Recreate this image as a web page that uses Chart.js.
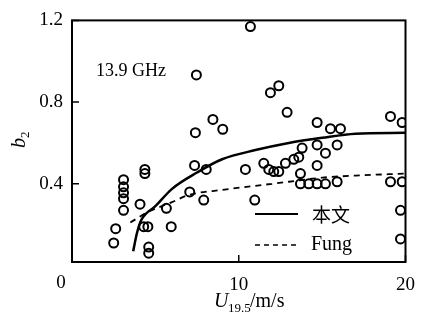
<!DOCTYPE html>
<html>
<head>
<meta charset="utf-8">
<script src="https://cdn.jsdelivr.net/npm/chart.js@4.4.1/dist/chart.umd.min.js"></script>
<style>
  html, body { margin: 0; padding: 0; background: #fff; }
  #wrap { width: 427px; height: 322px; }
</style>
</head>
<body>
<div id="wrap"><canvas id="b2Chart" width="427" height="322"></canvas></div>
<script>
// measured points, U19.5 (m/s) vs b2
const windSpeed = [
    3.09, 3.09, 3.09, 3.09, 3.09, 4.08, 2.62, 2.5, 4.37, 4.37,
    4.3, 4.55, 4.6, 4.6, 5.95, 5.66, 7.06, 7.9, 7.35, 8.05,
    10.4, 10.96, 11.5, 11.8, 12.1, 12.4, 12.8, 13.3, 13.6, 13.8,
    14.7, 15.9, 14.7, 15.2, 13.7, 14.2, 14.7, 15.2, 15.9, 13.7,
    19.1, 19.8, 19.7, 19.7, 14.7, 15.5, 16.1, 19.1, 19.8, 10.7,
    7.46, 11.9, 12.4, 12.9, 8.45, 9.04, 7.4
];
const b2Measured = [
    0.42, 0.385, 0.356, 0.327, 0.27, 0.30, 0.18, 0.11, 0.47, 0.45,
    0.19, 0.19, 0.09, 0.06, 0.19, 0.28, 0.36, 0.32, 0.49, 0.47,
    0.47, 0.32, 0.50, 0.47, 0.46, 0.46, 0.50, 0.52, 0.53, 0.575,
    0.59, 0.59, 0.49, 0.55, 0.40, 0.40, 0.40, 0.40, 0.41, 0.45,
    0.41, 0.41, 0.27, 0.13, 0.70, 0.67, 0.67, 0.73, 0.70, 1.17,
    0.933, 0.846, 0.88, 0.75, 0.715, 0.667, 0.65
];

// model curves
const modelU = [3.67, 3.9, 4.14, 5, 6, 7.5, 9, 11, 13, 15, 17, 20];
const modelB2 = [0.07, 0.16, 0.22, 0.29, 0.375, 0.455, 0.52, 0.565, 0.6, 0.625, 0.645, 0.65];
const fungU = [3.5, 4.5, 6, 7, 9, 11, 13, 15, 17, 20];
const fungB2 = [0.21, 0.26, 0.31, 0.345, 0.37, 0.39, 0.41, 0.43, 0.44, 0.45];

const xTicks = [0, 10, 20];
const yTicks = [0.4, 0.8, 1.2];
const seriesNames = ['本文', 'Fung'];
const freqLabel = '13.9 GHz';

const serif = '"Liberation Serif", "DejaVu Serif", serif';

const toPoints = (xs, ys) => xs.map((x, i) => ({ x: x, y: ys[i] }));

// frame, inward ticks, legend, labels
const decorations = {
    id: 'decorations',
    afterDraw(chart) {
        const c = chart.ctx;
        const a = chart.chartArea;
        const xs = chart.scales.x;
        const ys = chart.scales.y;
        c.save();
        c.strokeStyle = '#000';
        c.lineWidth = 2;
        c.strokeRect(a.left, a.top, a.right - a.left, a.bottom - a.top);

        c.lineWidth = 1.5;
        c.beginPath();
        yTicks.forEach(v => {
            const p = ys.getPixelForValue(v);
            c.moveTo(a.left, p); c.lineTo(a.left + 7, p);
        });
        xTicks.forEach(v => {
            const p = xs.getPixelForValue(v);
            c.moveTo(p, a.bottom); c.lineTo(p, a.bottom - 7);
        });
        c.stroke();

        c.fillStyle = '#000';
        c.font = '19px ' + serif;
        c.textAlign = 'center';
        c.textBaseline = 'middle';
        c.fillText('0', a.left - 11, a.bottom + 21);

        // frequency note
        c.font = '18px ' + serif;
        c.textAlign = 'left';
        c.fillText(freqLabel, 96, 71);

        // legend
        c.lineWidth = 2;
        c.beginPath();
        c.moveTo(255, 214); c.lineTo(298, 214);
        c.stroke();
        c.lineWidth = 1.5;
        c.setLineDash([5, 4]);
        c.beginPath();
        c.moveTo(255, 245); c.lineTo(298, 245);
        c.stroke();
        c.setLineDash([]);
        c.font = '19px "Noto Sans CJK SC", ' + serif;
        c.fillText(seriesNames[0], 312, 215);
        c.font = '20px ' + serif;
        c.fillText(seriesNames[1], 311, 245);

        // x title
        c.textBaseline = 'alphabetic';
        c.font = 'italic 20px ' + serif;
        c.fillText('U', 214, 307);
        c.font = '13px ' + serif;
        c.fillText('19.5', 228, 312);
        c.font = '20px ' + serif;
        c.fillText('/m/s', 250, 307);

        // y title
        c.translate(20, 140);
        c.rotate(-Math.PI / 2);
        c.font = 'italic 20px ' + serif;
        c.textAlign = 'left';
        c.fillText('b', -8, 5);
        c.font = '13px ' + serif;
        c.fillText('2', 2, 9);
        c.restore();
    }
};

new Chart(document.getElementById('b2Chart'), {
    type: 'scatter',
    data: {
        datasets: [
            {
                label: 'measured',
                data: toPoints(windSpeed, b2Measured),
                pointRadius: 4.5,
                pointBorderWidth: 2,
                pointBorderColor: '#000',
                pointBackgroundColor: 'rgba(0,0,0,0)',
                showLine: false
            },
            {
                label: seriesNames[0],
                data: toPoints(modelU, modelB2),
                showLine: true,
                borderColor: '#000',
                borderWidth: 2.5,
                pointRadius: 0,
                cubicInterpolationMode: 'monotone'
            },
            {
                label: seriesNames[1],
                data: toPoints(fungU, fungB2),
                showLine: true,
                borderColor: '#000',
                borderWidth: 1.8,
                borderDash: [6, 5],
                pointRadius: 0,
                cubicInterpolationMode: 'monotone'
            }
        ]
    },
    options: {
        responsive: false,
        animation: false,
        devicePixelRatio: 1,
        layout: { padding: { left: 0, right: 12, top: 18, bottom: 0 } },
        plugins: {
            legend: { display: false },
            tooltip: { enabled: false }
        },
        scales: {
            x: {
                type: 'linear',
                min: 0,
                max: 20,
                afterBuildTicks: s => { s.ticks = xTicks.map(v => ({ value: v })); },
                afterFit: s => { s.height = 60; },
                grid: { display: false, drawTicks: false },
                border: { display: false },
                ticks: {
                    color: '#000',
                    padding: 12,
                    font: { family: serif, size: 19 },
                    callback: v => (v === 0 ? '' : v)
                }
            },
            y: {
                type: 'linear',
                min: 0.017,
                max: 1.2,
                afterBuildTicks: s => { s.ticks = yTicks.map(v => ({ value: v })); },
                afterFit: s => { s.width = 72; },
                grid: { display: false, drawTicks: false },
                border: { display: false },
                ticks: {
                    color: '#000',
                    padding: 9,
                    font: { family: serif, size: 19 },
                    callback: v => v.toFixed(1)
                }
            }
        }
    },
    plugins: [decorations]
});
</script>
</body>
</html>
